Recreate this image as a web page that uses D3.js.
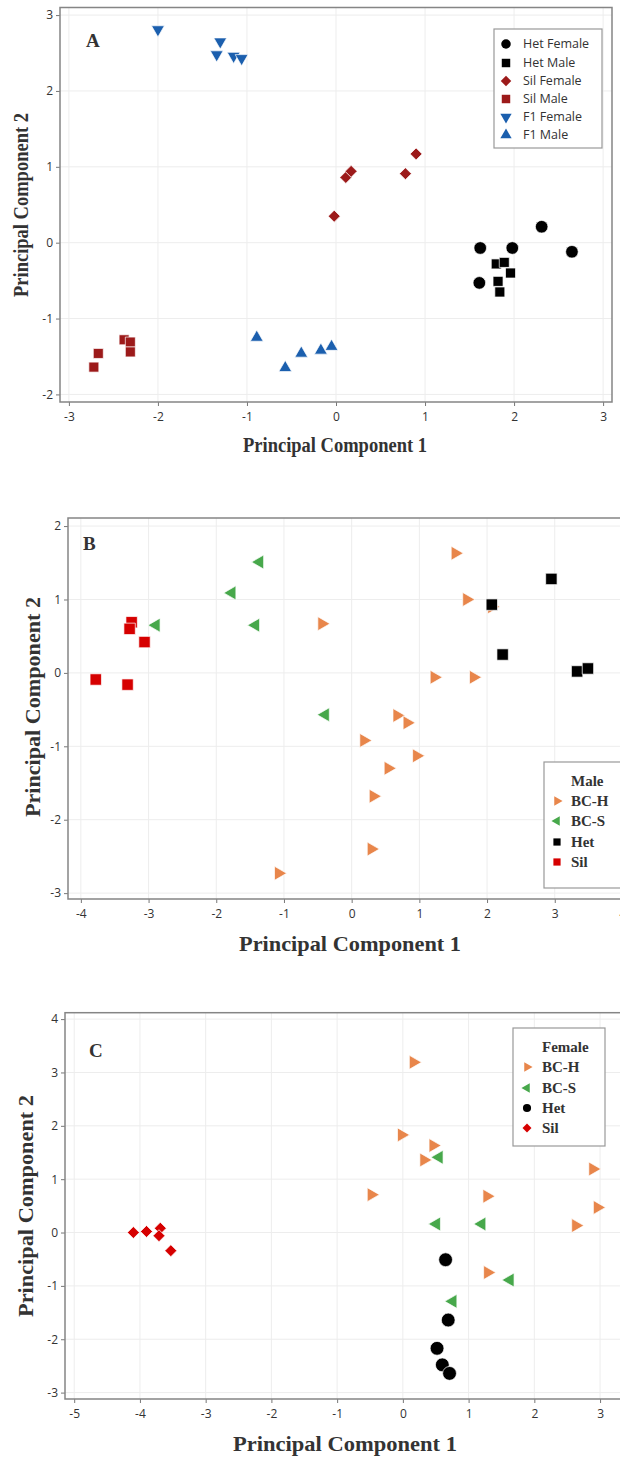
<!DOCTYPE html>
<html lang="en">
<head>
<meta charset="UTF-8">
<title>PCA plots</title>
<script src="https://cdn.jsdelivr.net/npm/d3@7"></script>
<style>
  body { margin: 0; background: #fff; }
  .tick text { font-family: "Open Sans", "DejaVu Sans", sans-serif; font-size: 12px; fill: #333; }
  .tick line { stroke: #777; }
</style>
</head>
<body>
<script>
// ---- data, panel A (parents and F1) ----
var hetFemaleA = [[1.62,-0.07],[1.98,-0.07],[2.31,0.21],[2.65,-0.12],[1.61,-0.53]];
var hetMaleA   = [[1.80,-0.28],[1.89,-0.26],[1.96,-0.40],[1.82,-0.51],[1.84,-0.65]];
var silFemaleA = [[-0.02,0.35],[0.11,0.86],[0.17,0.94],[0.78,0.91],[0.90,1.17]];
var silMaleA   = [[-2.72,-1.64],[-2.67,-1.46],[-2.38,-1.28],[-2.31,-1.31],[-2.31,-1.44]];
var f1FemaleA  = [[-2.00,2.81],[-1.30,2.65],[-1.34,2.48],[-1.15,2.46],[-1.06,2.43]];
var f1MaleA    = [[-0.89,-1.25],[-0.57,-1.65],[-0.39,-1.46],[-0.17,-1.42],[-0.05,-1.37]];
var legendA = ["Het Female", "Het Male", "Sil Female", "Sil Male", "F1 Female", "F1 Male"];

// ---- data, panel B (males) ----
var bchB = [[1.53,1.63],[1.70,1.00],[2.07,0.90],[-0.44,0.67],[1.22,-0.06],[1.80,-0.06],
            [0.67,-0.58],[0.82,-0.68],[0.18,-0.92],[0.96,-1.13],[0.54,-1.30],[0.32,-1.68],
            [0.29,-2.40],[-1.08,-2.73]];
var bcsB = [[-1.36,1.51],[-1.77,1.09],[-2.89,0.65],[-1.42,0.65],[-0.39,-0.57]];
var hetB = [[2.95,1.28],[2.07,0.93],[2.23,0.25],[3.33,0.02],[3.49,0.06]];
var silB = [[-3.25,0.69],[-3.28,0.60],[-3.06,0.42],[-3.78,-0.09],[-3.31,-0.16]];

// ---- data, panel C (females) ----
var bchC = [[0.16,3.19],[-0.02,1.83],[0.46,1.63],[0.32,1.36],[-0.48,0.71],[1.28,0.68],
            [2.89,1.19],[2.96,0.47],[2.63,0.13],[1.29,-0.75]];
var bcsC = [[0.55,1.41],[0.51,0.16],[1.20,0.16],[1.63,-0.89],[0.76,-1.29]];
var hetC = [[0.65,-0.51],[0.69,-1.64],[0.52,-2.17],[0.60,-2.48],[0.71,-2.64]];
var silC = [[-4.10,0.00],[-3.90,0.02],[-3.69,0.08],[-3.71,-0.06],[-3.53,-0.34]];
var legendBC = ["BC-H", "BC-S", "Het", "Sil"];

var ticksA = { x: [-3,-2,-1,0,1,2,3], y: [-2,-1,0,1,2,3] };
var ticksB = { x: [-4,-3,-2,-1,0,1,2,3,4], y: [-3,-2,-1,0,1,2] };
var ticksC = { x: [-5,-4,-3,-2,-1,0,1,2,3], y: [-3,-2,-1,0,1,2,3,4] };

var darkRed = "#9c1a1a", blue = "#1b5fae", orange = "#e8864b", green = "#47a84b", red = "#d60000";

var svg = d3.select("body").append("svg")
    .attr("width", 620)
    .attr("height", 1457);

// shape -> d3 symbol type + rotation
var shapes = {
    circle:  { type: d3.symbolCircle, rot: 0 },
    square:  { type: d3.symbolSquare, rot: 0 },
    diamond: { type: d3.symbolSquare, rot: 45 },
    up:      { type: d3.symbolTriangle, rot: 0 },
    down:    { type: d3.symbolTriangle, rot: 180 },
    right:   { type: d3.symbolTriangle, rot: 90 },
    left:    { type: d3.symbolTriangle, rot: -90 }
};

var panels = [
    {
        label: "A", labelPos: [86, 47],
        xDomain: [-3.1, 3.1], xRange: [60, 612],
        yDomain: [-2.1, 3.1], yRange: [402, 7.5],
        ticks: ticksA,
        xTitle: { x: 335, y: 452, size: 20, len: 184 },
        yTitle: { x: 28, y: 205, size: 20, len: 184 },
        series: [
            { data: hetFemaleA, shape: "circle", color: "#000", size: 125 },
            { data: hetMaleA, shape: "square", color: "#000", size: 100 },
            { data: silFemaleA, shape: "diamond", color: darkRed, size: 72 },
            { data: silMaleA, shape: "square", color: darkRed, size: 100 },
            { data: f1FemaleA, shape: "down", color: blue, size: 72 },
            { data: f1MaleA, shape: "up", color: blue, size: 72 }
        ],
        legend: { box: [494, 29, 108, 119], title: null, names: legendA,
                  symX: 506, textX: 523, rows: [44, 63, 81, 99, 117, 135],
                  font: '"Open Sans", "DejaVu Sans", sans-serif', fontSize: 12.5, weight: "normal",
                  symSize: 55 }
    },
    {
        label: "B", labelPos: [83, 550],
        xDomain: [-4.19, 4.2], xRange: [68, 636],
        yDomain: [-3.08, 2.11], yRange: [899, 518],
        ticks: ticksB,
        xTitle: { x: 350, y: 951, size: 22, len: 222 },
        yTitle: { x: 40, y: 707, size: 22, len: 220 },
        series: [
            { data: bchB, shape: "right", color: orange, size: 85 },
            { data: bcsB, shape: "left", color: green, size: 85 },
            { data: hetB, shape: "square", color: "#000", size: 130 },
            { data: silB, shape: "square", color: red, size: 130 }
        ],
        legend: { box: [544, 762, 90, 126], title: "Male", titleY: 781, names: legendBC,
                  symX: 557, textX: 571, rows: [801, 821, 842, 862],
                  font: '"Liberation Serif", "Times New Roman", serif', fontSize: 15, weight: "bold",
                  symSize: 40 }
    },
    {
        label: "C", labelPos: [89, 1057],
        xDomain: [-5.14, 4.14], xRange: [65, 675],
        yDomain: [-3.12, 4.12], yRange: [1399, 1012.7],
        ticks: ticksC,
        xTitle: { x: 345, y: 1451, size: 22, len: 224 },
        yTitle: { x: 33, y: 1206, size: 22, len: 222 },
        series: [
            { data: bchC, shape: "right", color: orange, size: 85 },
            { data: bcsC, shape: "left", color: green, size: 85 },
            { data: hetC, shape: "circle", color: "#000", size: 150 },
            { data: silC, shape: "diamond", color: red, size: 72 }
        ],
        legend: { box: [513, 1028, 92, 118], title: "Female", titleY: 1047, names: legendBC,
                  symX: 527, textX: 542, rows: [1067, 1088, 1108, 1128],
                  font: '"Liberation Serif", "Times New Roman", serif', fontSize: 15, weight: "bold",
                  symSize: 40 }
    }
];

panels.forEach(drawPanel);

function drawPanel(p) {
    var g = svg.append("g");
    var x = d3.scaleLinear().domain(p.xDomain).range(p.xRange);
    var y = d3.scaleLinear().domain(p.yDomain).range(p.yRange);
    var x0 = p.xRange[0], x1 = p.xRange[1], yTop = p.yRange[1], yBot = p.yRange[0];

    // grid
    g.append("g").selectAll("line").data(p.ticks.x).enter().append("line")
        .attr("x1", function (d) { return x(d); }).attr("x2", function (d) { return x(d); })
        .attr("y1", yTop).attr("y2", yBot)
        .attr("stroke", "#ededed").attr("stroke-width", 1);
    g.append("g").selectAll("line").data(p.ticks.y).enter().append("line")
        .attr("y1", function (d) { return y(d); }).attr("y2", function (d) { return y(d); })
        .attr("x1", x0).attr("x2", x1)
        .attr("stroke", "#ededed").attr("stroke-width", 1);

    // axes
    var xAxis = g.append("g")
        .attr("transform", "translate(0," + yBot + ")")
        .call(d3.axisBottom(x).tickValues(p.ticks.x).tickSize(4).tickPadding(6)
            .tickFormat(function (d) { return String(d); }));
    xAxis.select(".domain").remove();
    var yAxis = g.append("g")
        .attr("transform", "translate(" + x0 + ",0)")
        .call(d3.axisLeft(y).tickValues(p.ticks.y).tickSize(4).tickPadding(3)
            .tickFormat(function (d) { return String(d); }));
    yAxis.select(".domain").remove();

    // frame
    g.append("rect")
        .attr("x", x0).attr("y", yTop)
        .attr("width", x1 - x0).attr("height", yBot - yTop)
        .attr("fill", "none").attr("stroke", "#858585").attr("stroke-width", 1.5);

    // points
    p.series.forEach(function (s) {
        var sh = shapes[s.shape];
        var sym = d3.symbol().type(sh.type).size(s.size);
        g.append("g").selectAll("path").data(s.data).enter().append("path")
            .attr("d", sym)
            .attr("transform", function (d) {
                return "translate(" + x(d[0]) + "," + y(d[1]) + ") rotate(" + sh.rot + ")";
            })
            .attr("fill", s.color)
            .attr("stroke", "#fff")
            .attr("stroke-width", 0.7);
    });

    // panel letter
    g.append("text")
        .attr("x", p.labelPos[0]).attr("y", p.labelPos[1])
        .attr("font-family", '"Liberation Serif", "Times New Roman", serif')
        .attr("font-weight", "bold").attr("font-size", 19).attr("fill", "#333")
        .text(p.label);

    // axis titles
    g.append("text")
        .attr("x", p.xTitle.x).attr("y", p.xTitle.y)
        .attr("text-anchor", "middle")
        .attr("font-family", '"Liberation Serif", "Times New Roman", serif')
        .attr("font-weight", "bold").attr("font-size", p.xTitle.size).attr("fill", "#333")
        .attr("textLength", p.xTitle.len).attr("lengthAdjust", "spacingAndGlyphs")
        .text("Principal Component 1");
    g.append("text")
        .attr("transform", "translate(" + p.yTitle.x + "," + p.yTitle.y + ") rotate(-90)")
        .attr("text-anchor", "middle")
        .attr("font-family", '"Liberation Serif", "Times New Roman", serif')
        .attr("font-weight", "bold").attr("font-size", p.yTitle.size).attr("fill", "#333")
        .attr("textLength", p.yTitle.len).attr("lengthAdjust", "spacingAndGlyphs")
        .text("Principal Component 2");

    // legend
    var L = p.legend;
    var lg = g.append("g");
    lg.append("rect")
        .attr("x", L.box[0]).attr("y", L.box[1])
        .attr("width", L.box[2]).attr("height", L.box[3])
        .attr("fill", "#fff").attr("stroke", "#999").attr("stroke-width", 1.2);
    if (L.title) {
        lg.append("text")
            .attr("x", L.textX).attr("y", L.titleY).attr("dy", "0.35em")
            .attr("font-family", L.font).attr("font-weight", L.weight)
            .attr("font-size", L.fontSize).attr("fill", "#333")
            .text(L.title);
    }
    p.series.forEach(function (s, i) {
        var sh = shapes[s.shape];
        var sz = s.shape === "square" || s.shape === "circle" ? L.symSize * 1.3 : L.symSize;
        lg.append("path")
            .attr("d", d3.symbol().type(sh.type).size(sz))
            .attr("transform", "translate(" + L.symX + "," + L.rows[i] + ") rotate(" + sh.rot + ")")
            .attr("fill", s.color);
        lg.append("text")
            .attr("x", L.textX).attr("y", L.rows[i]).attr("dy", "0.35em")
            .attr("font-family", L.font).attr("font-weight", L.weight)
            .attr("font-size", L.fontSize).attr("fill", "#333")
            .text(L.names[i]);
    });
}
</script>
</body>
</html>
